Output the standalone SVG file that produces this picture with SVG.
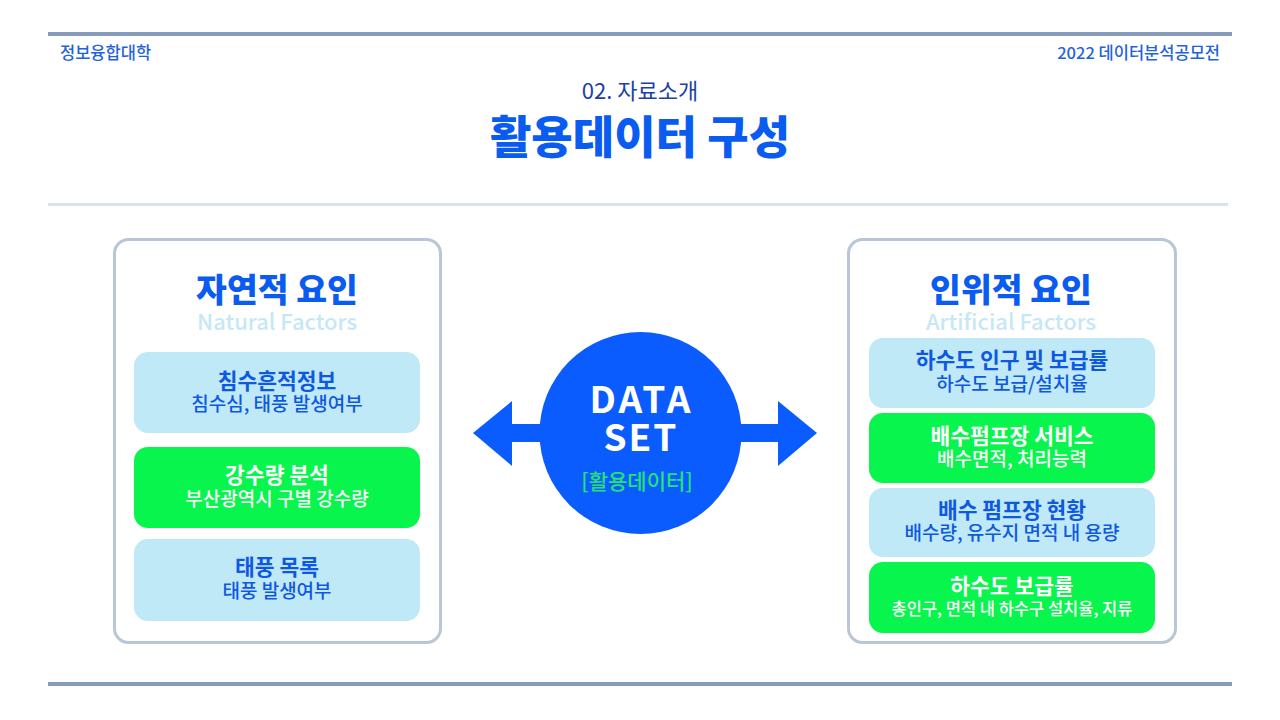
<svg xmlns="http://www.w3.org/2000/svg" width="1280" height="720" viewBox="0 0 1280 720">
<style>
text{font-family:"Noto Sans CJK KR","Noto Sans",sans-serif;text-anchor:middle}
.hdr{font-size:16.5px;fill:#1f63dc;font-weight:500}
.ptitle{font-size:33.5px;font-weight:900;fill:#0a5cf0}
.psub{font-size:22px;fill:#c6e7f6;font-weight:500}
.panel{fill:#fff;stroke:#b9c6d8;stroke-width:3}
.lb{fill:#bfe9f6}
.gr{fill:#07f54c}
.ct{font-size:21.5px;font-weight:700}
.cs{font-size:19px;font-weight:500}
.lb-t{fill:#0f58e0}
.gr-t{fill:#fff}
</style>
<rect width="1280" height="720" fill="#fff"/>
<g id="header">
<rect x="48" y="32" width="1184" height="4" fill="#879cbd"/>
<text class="hdr" x="60" y="59" style="text-anchor:start">정보융합대학</text>
<text class="hdr" x="1220" y="59" style="text-anchor:end">2022 데이터분석공모전</text>
<text x="640" y="99" style="font-size:22px;fill:#1b3fa8;font-weight:400">02. 자료소개</text>
<text x="640" y="154" style="font-size:45px;font-weight:900;fill:#0a5cf0">활용데이터 구성</text>
<rect x="48" y="203" width="1180" height="3" fill="#dce2ea"/>
<rect x="48" y="682" width="1184" height="4" fill="#879cbd"/>
</g>
<g id="connectors">
<polygon points="473,433 512,401 512,424 545,424 545,442 512,442 512,466" fill="#0a5cff"/>
<polygon points="817,433 778,401 778,424 735,424 735,442 778,442 778,466" fill="#0a5cff"/>
</g>
<g id="dataset">
<circle cx="640.5" cy="433" r="101" fill="#0a5cff"/>
<text x="641.5" y="413" style="font-size:37px;font-weight:700;fill:#fff;letter-spacing:3px">DATA</text>
<text x="641" y="451" style="font-size:37px;font-weight:700;fill:#fff;letter-spacing:2px">SET</text>
<text x="637" y="489" style="font-size:21px;font-weight:500;fill:#24e374">[활용데이터]</text>
</g>
<g id="natural">
<rect class="panel" x="114.5" y="239.5" width="326" height="403" rx="14"/>
<text class="ptitle" x="277" y="302">자연적 요인</text>
<text class="psub" x="277" y="330">Natural Factors</text>
<g id="n1">
<rect class="lb" x="134" y="352" width="286" height="81" rx="14"/>
<text class="ct lb-t" x="277" y="389">침수흔적정보</text>
<text class="cs lb-t" x="277" y="411">침수심, 태풍 발생여부</text>
</g>
<g id="n2">
<rect class="gr" x="134" y="447" width="286" height="81" rx="14"/>
<text class="ct gr-t" x="277" y="483">강수량 분석</text>
<text class="cs gr-t" x="277" y="506">부산광역시 구별 강수량</text>
</g>
<g id="n3">
<rect class="lb" x="134" y="539" width="286" height="82" rx="14"/>
<text class="ct lb-t" x="277" y="575">태풍 목록</text>
<text class="cs lb-t" x="277" y="598">태풍 발생여부</text>
</g>
</g>
<g id="artificial">
<rect class="panel" x="848.5" y="239.5" width="327" height="403" rx="14"/>
<text class="ptitle" x="1011" y="302">인위적 요인</text>
<text class="psub" x="1011" y="330">Artificial Factors</text>
<g id="a1">
<rect class="lb" x="869" y="338" width="286" height="70" rx="14"/>
<text class="ct lb-t" x="1012" y="368">하수도 인구 및 보급률</text>
<text class="cs lb-t" x="1012" y="391">하수도 보급/설치율</text>
</g>
<g id="a2">
<rect class="gr" x="869" y="413" width="286" height="70" rx="14"/>
<text class="ct gr-t" x="1012" y="444">배수펌프장 서비스</text>
<text class="cs gr-t" x="1012" y="466">배수면적, 처리능력</text>
</g>
<g id="a3">
<rect class="lb" x="869" y="488" width="286" height="69" rx="14"/>
<text class="ct lb-t" x="1012" y="518">배수 펌프장 현황</text>
<text class="cs lb-t" x="1012" y="540">배수량, 유수지 면적 내 용량</text>
</g>
<g id="a4">
<rect class="gr" x="869" y="562" width="286" height="71" rx="14"/>
<text class="ct gr-t" x="1012" y="594">하수도 보급률</text>
<text class="cs gr-t" x="1012" y="615" style="font-size:16.5px">총인구, 면적 내 하수구 설치율, 지류</text>
</g>
</g>
</svg>
